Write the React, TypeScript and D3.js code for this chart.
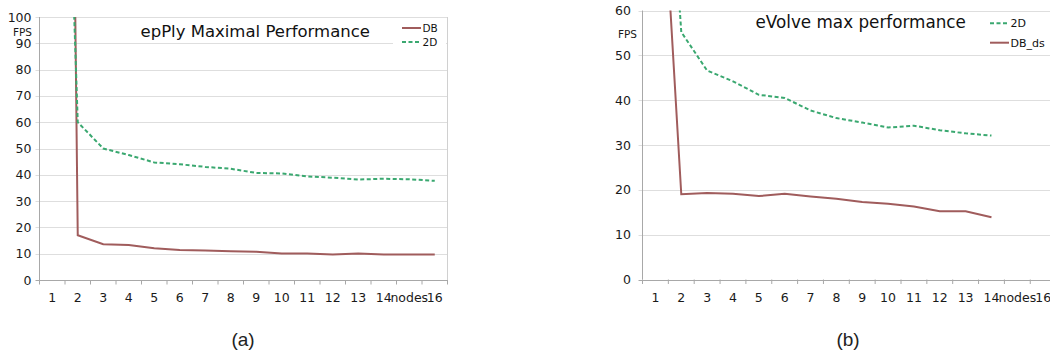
import { useEffect, useRef } from 'react';
import * as d3 from 'd3';

// categories on the x axis (node counts), label 15 is replaced by "nodes"
const categories = ['1', '2', '3', '4', '5', '6', '7', '8', '9', '10', '11', '12', '13', '14', '15', '16'];
const xTickLabels = ['1', '2', '3', '4', '5', '6', '7', '8', '9', '10', '11', '12', '13', '14', 'nodes', '16'];

// (a) epPly
const eplyDB = [880, 17, 13.6, 13.3, 12.1, 11.4, 11.2, 10.9, 10.7, 10.1, 10.1, 9.7, 10.1, 9.7, 9.7, 9.7];
const eply2D = [350, 60, 50, 47.5, 44.7, 44, 43, 42.3, 40.7, 40.5, 39.4, 38.9, 38.2, 38.5, 38.3, 37.7];
const eplyYTicks = [0, 10, 20, 30, 40, 50, 60, 70, 80, 90, 100];

// (b) eVolve
const evolve2D = [140, 55.2, 46.6, 44.2, 41.2, 40.5, 37.7, 36, 35, 33.9, 34.3, 33.3, 32.6, 32.1];
const evolveDB = [117, 19.0, 19.3, 19.1, 18.6, 19.1, 18.5, 18.0, 17.3, 16.9, 16.3, 15.2, 15.2, 13.9];
const evolveYTicks = [0, 10, 20, 30, 40, 50, 60];

const DB_COLOR = '#a05c5c';
const GREEN = '#3aa870';
const FONT = '"DejaVu Sans", Verdana, sans-serif';

interface Series {
    name: string;
    values: number[];
    color: string;
    dashed: boolean;
}

interface PanelSpec {
    id: string;
    x0: number;
    x1: number;
    top: number;
    bottom: number;
    yMax: number;
    yTicks: number[];
    labelGap: number;
    fpsX: number;
    fpsY: number;
    title: string;
    titleX: number;
    titleY: number;
    titleSize: number;
    series: Series[];
    legendX: number;
    legendY: number;
    legendStep: number;
    legendSize: number;
    legendBox: { x: number; y: number; w: number; h: number } | null;
    rightBorder: boolean;
}

const panels: PanelSpec[] = [
    {
        id: 'a', x0: 39.5, x1: 447.5, top: 17, bottom: 280, yMax: 100, yTicks: eplyYTicks, labelGap: 8,
        fpsX: 32, fpsY: 32, title: 'epPly Maximal Performance', titleX: 140.5, titleY: 37, titleSize: 16.5,
        series: [
            { name: 'DB', values: eplyDB, color: DB_COLOR, dashed: false },
            { name: '2D', values: eply2D, color: GREEN, dashed: true }
        ],
        legendX: 402, legendY: 28, legendStep: 14, legendSize: 10.5,
        legendBox: { x: 393, y: 19, w: 53, h: 32 }, rightBorder: true
    },
    {
        id: 'b', x0: 642.5, x1: 642.5 + 16 * 25.85, top: 10.5, bottom: 279.5, yMax: 60, yTicks: evolveYTicks, labelGap: 11.5,
        fpsX: 637, fpsY: 34, title: 'eVolve max performance', titleX: 755.5, titleY: 27.5, titleSize: 16.8,
        series: [
            { name: '2D', values: evolve2D, color: GREEN, dashed: true },
            { name: 'DB_ds', values: evolveDB, color: DB_COLOR, dashed: false }
        ],
        legendX: 990, legendY: 23.3, legendStep: 19.4, legendSize: 11,
        legendBox: null, rightBorder: false
    }
];

export default function App() {
    const svgRef = useRef<SVGSVGElement>(null);

    useEffect(() => {
        if (!svgRef.current) return;
        const svg = d3.select(svgRef.current);
        svg.selectAll('*').remove();

        panels.forEach(p => {
            const x = d3.scaleBand<string>().domain(categories).range([p.x0, p.x1]).padding(0);
            const y = d3.scaleLinear().domain([0, p.yMax]).range([p.bottom, p.top]);
            const g = svg.append('g');

            // grid lines
            g.selectAll('.grid')
                .data(p.yTicks.filter(t => t > 0))
                .enter()
                .append('line')
                .attr('x1', p.x0 - 4)
                .attr('x2', p.x1)
                .attr('y1', d => Math.round(y(d)) + 0.5)
                .attr('y2', d => Math.round(y(d)) + 0.5)
                .attr('stroke', '#dedede')
                .attr('stroke-width', 1);

            if (p.rightBorder) {
                g.append('line')
                    .attr('x1', p.x1).attr('x2', p.x1)
                    .attr('y1', p.top).attr('y2', p.bottom)
                    .attr('stroke', '#d0d0d0');
            }

            // y axis
            g.append('line')
                .attr('x1', p.x0).attr('x2', p.x0)
                .attr('y1', p.top).attr('y2', p.bottom)
                .attr('stroke', '#a8a8a8');
            g.append('line')
                .attr('x1', p.x0 - 4).attr('x2', p.x0)
                .attr('y1', Math.round(p.bottom) + 0.5).attr('y2', Math.round(p.bottom) + 0.5)
                .attr('stroke', '#a8a8a8');
            g.selectAll('.ylab')
                .data(p.yTicks)
                .enter()
                .append('text')
                .attr('x', p.x0 - p.labelGap)
                .attr('y', d => y(d))
                .attr('dy', '0.36em')
                .attr('text-anchor', 'end')
                .attr('font-family', FONT)
                .attr('font-size', 12.5)
                .attr('fill', '#1a1a1a')
                .text(d => d);

            g.append('text')
                .attr('x', p.fpsX)
                .attr('y', p.fpsY)
                .attr('dy', '0.36em')
                .attr('text-anchor', 'end')
                .attr('font-family', FONT)
                .attr('font-size', 10.5)
                .attr('fill', '#1a1a1a')
                .text('FPS');

            // x axis
            g.append('line')
                .attr('x1', p.x0).attr('x2', p.x1)
                .attr('y1', Math.round(p.bottom) + 0.5).attr('y2', Math.round(p.bottom) + 0.5)
                .attr('stroke', '#a8a8a8');
            const bounds = categories.map(c => x(c) || 0).concat([p.x1]);
            g.selectAll('.xtick')
                .data(bounds)
                .enter()
                .append('line')
                .attr('x1', d => d).attr('x2', d => d)
                .attr('y1', p.bottom).attr('y2', p.bottom + 4.5)
                .attr('stroke', '#a8a8a8');
            g.selectAll('.xlab')
                .data(categories)
                .enter()
                .append('text')
                .attr('x', d => (x(d) || 0) + x.bandwidth() / 2)
                .attr('y', 301.5)
                .attr('text-anchor', 'middle')
                .attr('font-family', FONT)
                .attr('font-size', 12.5)
                .attr('fill', '#1a1a1a')
                .text((_, i) => xTickLabels[i]);

            // lines, clipped to plot area
            const clipId = `clip-${p.id}`;
            svg.append('clipPath').attr('id', clipId)
                .append('rect')
                .attr('x', p.x0).attr('y', p.top)
                .attr('width', p.x1 - p.x0).attr('height', p.bottom - p.top);

            const line = d3.line<number>()
                .x((_, i) => (x(categories[i]) || 0) + x.bandwidth() / 2)
                .y(d => y(d));

            p.series.forEach(s => {
                g.append('path')
                    .attr('clip-path', `url(#${clipId})`)
                    .attr('d', line(s.values))
                    .attr('fill', 'none')
                    .attr('stroke', s.color)
                    .attr('stroke-width', 2)
                    .attr('stroke-dasharray', s.dashed ? '4,2.5' : null);
            });

            // title
            g.append('text')
                .attr('x', p.titleX)
                .attr('y', p.titleY)
                .attr('font-family', FONT)
                .attr('font-size', p.titleSize)
                .attr('fill', '#111')
                .text(p.title);

            // legend
            if (p.legendBox) {
                g.append('rect')
                    .attr('x', p.legendBox.x).attr('y', p.legendBox.y)
                    .attr('width', p.legendBox.w).attr('height', p.legendBox.h)
                    .attr('fill', '#fff');
            }
            p.series.forEach((s, i) => {
                const ly = p.legendY + i * p.legendStep;
                g.append('line')
                    .attr('x1', p.legendX).attr('x2', p.legendX + 19)
                    .attr('y1', ly).attr('y2', ly)
                    .attr('stroke', s.color)
                    .attr('stroke-width', 2)
                    .attr('stroke-dasharray', s.dashed ? '4,2.5' : null);
                g.append('text')
                    .attr('x', p.legendX + 20.5)
                    .attr('y', ly)
                    .attr('dy', '0.36em')
                    .attr('font-family', FONT)
                    .attr('font-size', p.legendSize)
                    .attr('fill', '#111')
                    .text(s.name);
            });
        });

        // sub captions
        [{ t: '(a)', cx: 243 }, { t: '(b)', cx: 848 }].forEach(c => {
            svg.append('text')
                .attr('x', c.cx)
                .attr('y', 346)
                .attr('text-anchor', 'middle')
                .attr('font-family', '"Liberation Sans", Arial, sans-serif')
                .attr('font-size', 19)
                .attr('fill', '#222')
                .text(c.t);
        });
    }, []);

    return (
        <svg
            ref={svgRef}
            width={1050}
            height={352}
            style={{ position: 'absolute', left: 0, top: 0, background: '#fff' }}
        />
    );
}
